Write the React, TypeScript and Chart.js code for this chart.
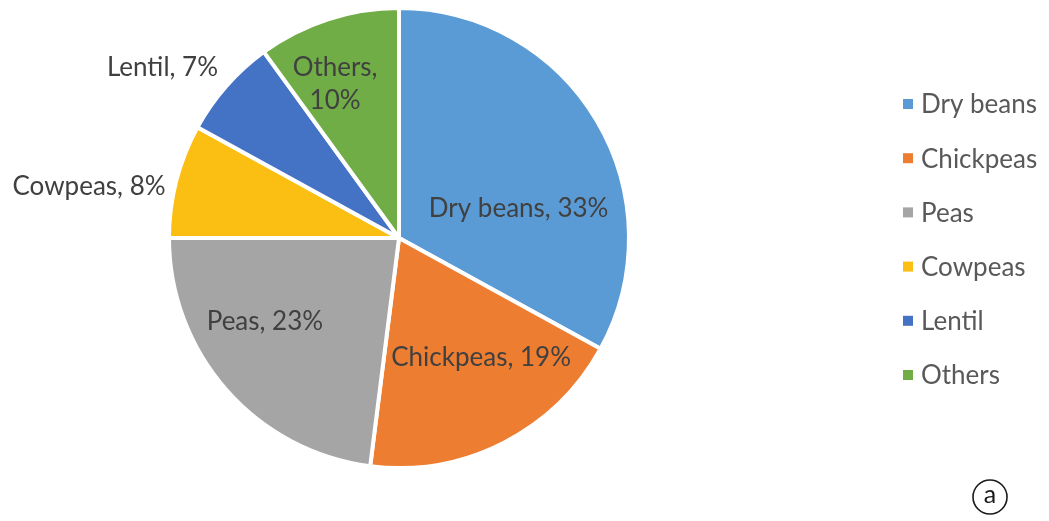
import React, { useEffect, useRef } from "react";
import { Chart, registerables } from "chart.js";

Chart.register(...registerables);

const categories = ["Dry beans", "Chickpeas", "Peas", "Cowpeas", "Lentil", "Others"];
const shares = [33, 19, 23, 8, 7, 10];
const colors = ["#5B9BD5", "#ED7D31", "#A5A5A5", "#FBBF14", "#4472C4", "#70AD47"];

// label anchors relative to pie centre, in units of the pie radius
const labelAnchors = [
  { dx: 0.52, dy: -0.126, align: "center" },
  { dx: 0.357, dy: 0.52, align: "center" },
  { dx: -0.583, dy: 0.365, align: "center" },
  { dx: -1.015, dy: -0.222, align: "right" },
  { dx: -0.787, dy: -0.739, align: "right" },
  { dx: -0.278, dy: -0.67, align: "center", split: true },
];

const FONT = "Lato, 'Open Sans', sans-serif";

const labelsPlugin = {
  id: "pieLabels",
  afterDatasetsDraw(chart: any) {
    const ctx = chart.ctx;
    const meta = chart.getDatasetMeta(0);
    const arc0 = meta.data[0];
    const cx = arc0.x;
    const cy = arc0.y;
    const r = arc0.outerRadius;
    ctx.save();
    ctx.font = `26px ${FONT}`;
    ctx.fillStyle = "#404040";
    ctx.textBaseline = "middle";
    categories.forEach((c, i) => {
      const a = labelAnchors[i];
      const x = cx + a.dx * r;
      const y = cy + a.dy * r;
      ctx.textAlign = a.align;
      if (a.split) {
        ctx.fillText(c + ",", x, y - 16);
        ctx.fillText(shares[i] + "%", x, y + 17);
      } else {
        ctx.fillText(`${c}, ${shares[i]}%`, x, y);
      }
    });
    // legend
    const lx = 903;
    const ly0 = 104;
    const step = 54.2;
    ctx.font = `26px ${FONT}`;
    ctx.textAlign = "left";
    categories.forEach((c, i) => {
      const y = ly0 + i * step;
      ctx.fillStyle = colors[i];
      ctx.fillRect(lx, y - 5, 10, 10);
      ctx.fillStyle = "#595959";
      ctx.fillText(c, lx + 18, y + 1);
    });
    // circled marker
    ctx.beginPath();
    ctx.arc(990, 497, 17, 0, Math.PI * 2);
    ctx.strokeStyle = "#1a1a1a";
    ctx.lineWidth = 1.6;
    ctx.stroke();
    ctx.fillStyle = "#1a1a1a";
    ctx.textAlign = "center";
    ctx.font = `25px ${FONT}`;
    ctx.fillText("a", 990, 495);
    ctx.restore();
  },
};

export default function App() {
  const ref = useRef<HTMLCanvasElement>(null);
  useEffect(() => {
    document.body.style.margin = "0";
    const chart = new Chart(ref.current!, {
      type: "pie",
      data: {
        labels: categories,
        datasets: [
          {
            data: shares,
            backgroundColor: colors,
            borderColor: "#ffffff",
            borderWidth: 4,
          },
        ],
      },
      options: {
        animation: false,
        responsive: false,
        layout: { padding: { left: 167, right: 418, top: 6, bottom: 51 } },
        plugins: { legend: { display: false }, tooltip: { enabled: false } },
      },
      plugins: [labelsPlugin],
    });
    return () => chart.destroy();
  }, []);
  return (
    <div style={{ width: 1049, height: 521, background: "#fff" }}>
      <canvas ref={ref} width={1049} height={521} style={{ display: "block" }} />
    </div>
  );
}
